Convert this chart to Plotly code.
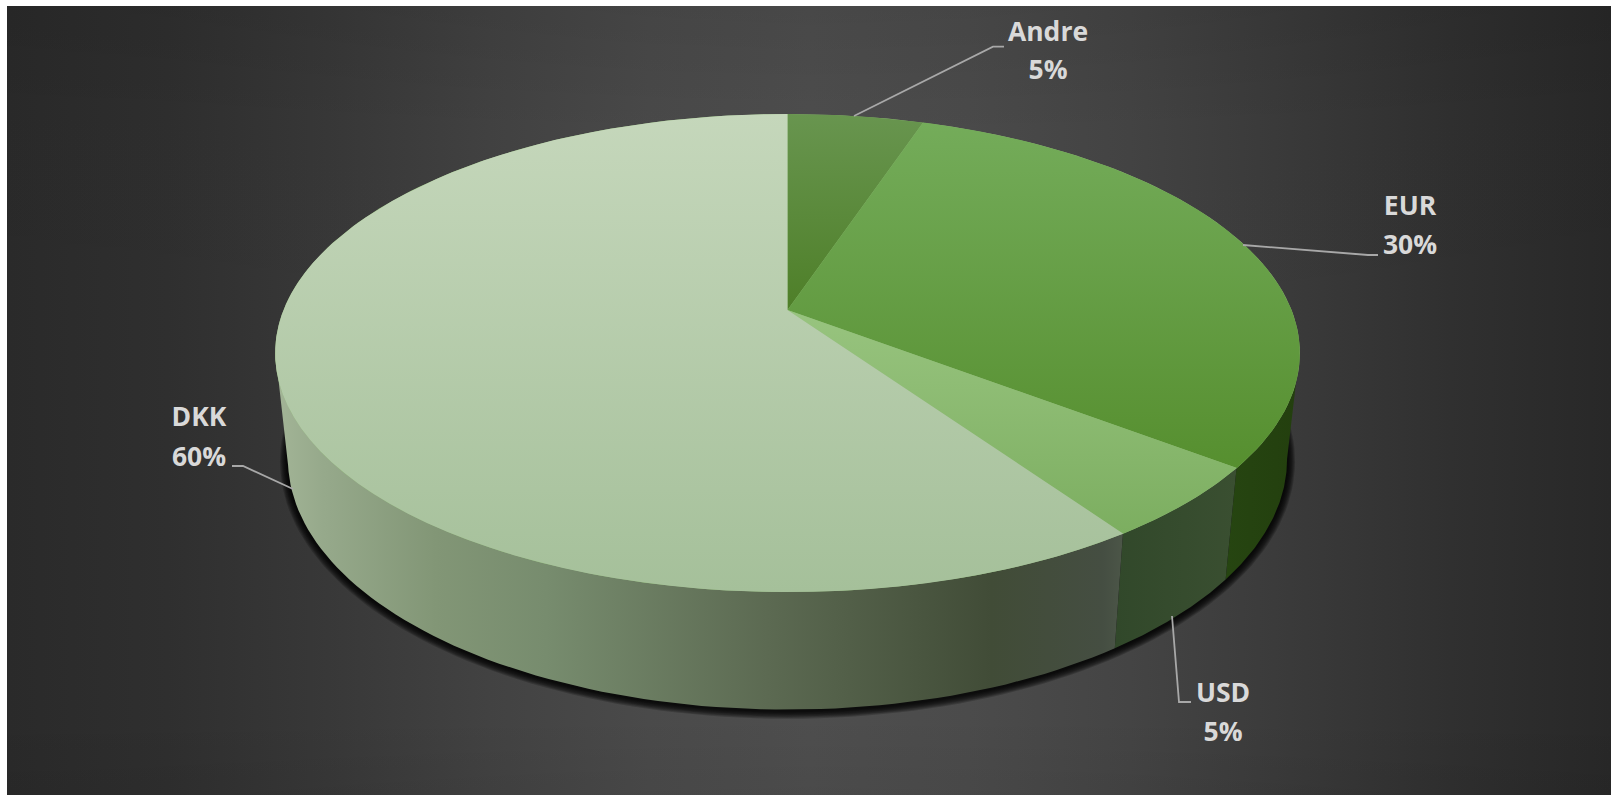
import math
import plotly.graph_objects as go

# ---- data -----------------------------------------------------------------
labels = ["Andre", "EUR", "USD", "DKK"]
values = [5.1, 30.3, 5.0, 59.6]

# ---- styles ---------------------------------------------------------------
top_colors = {
    "Andre": ("#68954f", "#4e7f28"),
    "EUR": ("#74ac5a", "#568f2f"),
    "USD": ("#98c47f", "#7cae60"),
    "DKK": ("#c5d7bb", "#a5c09a"),
}
wall_scales = {
    "EUR": [[0, "#264511"], [1, "#233f0e"]],
    "USD": [[0, "#31482a"], [1, "#3a4f31"]],
    "DKK": [[0, "#a3b597"], [0.057, "#96a98b"], [0.19, "#829676"], [0.32, "#778c6e"],
            [0.58, "#5c6a52"], [0.845, "#414c37"], [0.976, "#454e42"], [1, "#4c5648"]],
}
label_xy = {
    "Andre": (1048, 34, 72),
    "EUR": (1410, 208, 247),
    "USD": (1223, 695, 734),
    "DKK": (199, 419, 459),
}
leader_xy = {
    "Andre": ([854, 993, 1004], [116, 46.7, 46.7]),
    "EUR": ([1243, 1368, 1378], [245, 255, 255]),
    "USD": ([1172, 1179, 1191], [616, 702, 702]),
    "DKK": ([293, 243, 232], [489, 466, 466]),
}
W, H, LEFT, TOP = 1611, 795, 7, 6

# perspective model of the pie (pixels)
CX, CY, A, B, Q = 787.5, 310.0, 504.0, 231.3, 0.18
SX, SY, CY2 = 0.975, 1.048, 414.0
TANGENT = math.degrees(math.acos(-Q))  # where the wall starts being visible


def top_pt(deg):
    a = math.radians(deg)
    u, v = math.sin(a), -math.cos(a)
    d = 1 - Q * v
    return A * u / d, B * v / d


def arc(d0, d1, n=80):
    return [d0 + (d1 - d0) * i / n for i in range(n + 1)]


def no_line():
    return dict(width=0, color="rgba(0,0,0,0)")


fig = go.Figure()


def add_fill(xs, ys, **kw):
    fig.add_trace(go.Scatter(x=xs, y=ys, mode="lines", line=no_line(), fill="toself",
                             hoverinfo="skip", showlegend=False, **kw))


# background
rect_x = [LEFT, W, W, LEFT, LEFT]
rect_y = [TOP, TOP, H, H, TOP]
add_fill(rect_x, rect_y, fillgradient=dict(
    type="horizontal", start=LEFT, stop=W,
    colorscale=[[0, "#2a2a2a"], [0.1, "#2f2f2f"], [0.2, "#383838"], [0.3, "#424242"],
                [0.4, "#4a4a4a"], [0.5, "#4e4e4e"], [0.6, "#4b4b4b"], [0.7, "#444444"],
                [0.8, "#3a3a3a"], [0.9, "#303030"], [1, "#282828"]]))
add_fill(rect_x, rect_y, fillgradient=dict(
    type="vertical", start=TOP, stop=H,
    colorscale=[[0, "rgba(0,0,0,0.08)"], [0.15, "rgba(0,0,0,0.02)"], [0.5, "rgba(0,0,0,0)"],
                [0.9, "rgba(0,0,0,0)"], [1, "rgba(0,0,0,0.05)"]]))

# soft shadow under the base
all_deg = arc(0, 360, 240)
for grow in range(8, 0, -1):
    sh_x, sh_y = [], []
    for d in all_deg:
        x, y = top_pt(d)
        sh_x.append(CX + SX * x * (1 + grow / 500))
        sh_y.append(CY2 + 1 + SY * y * (1 + grow / 290))
    add_fill(sh_x, sh_y, fillcolor="rgba(0,0,0,0.2)")

# slice angles, clockwise from 12 o'clock
total = sum(values)
edges = [0.0]
for v in values:
    edges.append(edges[-1] + 360.0 * v / total)
span = {name: (edges[i], edges[i + 1]) for i, name in enumerate(labels)}

# side walls (their upper edge tucks under the top face to avoid a seam)
for name in labels:
    d0, d1 = span[name]
    lo, hi = max(d0, TANGENT), min(d1, 360 - TANGENT)
    if hi <= lo:
        continue
    pts = [top_pt(d) for d in arc(lo, hi)]
    xs = [CX + p[0] for p in pts] + [CX + SX * p[0] for p in reversed(pts)]
    ys = [CY + p[1] - 3 for p in pts] + [CY2 + SY * p[1] for p in reversed(pts)]
    xs.append(xs[0])
    ys.append(ys[0])
    add_fill(xs, ys, fillgradient=dict(
        type="horizontal", start=min(xs), stop=max(xs), colorscale=wall_scales[name]))

# neutral base under the top faces so wedge seams stay invisible
base = [top_pt(d) for d in all_deg]
add_fill([CX + p[0] for p in base], [CY + p[1] for p in base], fillcolor="#8fb877")

# top faces
for name in labels:
    d0, d1 = span[name]
    pts = [top_pt(d) for d in arc(d0, d1)]
    xs = [CX] + [CX + p[0] for p in pts] + [CX]
    ys = [CY] + [CY + p[1] for p in pts] + [CY]
    add_fill(xs, ys, fillgradient=dict(
        type="vertical", start=min(ys), stop=max(ys),
        colorscale=[[0, top_colors[name][0]], [1, top_colors[name][1]]]))

# leader lines and labels
for name, value in zip(labels, values):
    lx, ly = leader_xy[name]
    fig.add_trace(go.Scatter(x=lx, y=ly, mode="lines", hoverinfo="skip", showlegend=False,
                             line=dict(color="#a8a8a8", width=1.8)))
    tx, y1, y2 = label_xy[name]
    fig.add_trace(go.Scatter(
        x=[tx, tx], y=[y1, y2], mode="text", hoverinfo="skip", showlegend=False,
        text=[name, f"{round(value)}%"], textposition="middle center",
        textfont=dict(family="Open Sans", size=26.5, color="#d9d9d9", weight=700)))

fig.update_layout(
    width=W, height=H, autosize=False,
    margin=dict(l=LEFT, t=TOP, r=0, b=0, pad=0),
    paper_bgcolor="white", plot_bgcolor="#3a3a3a", showlegend=False,
    xaxis=dict(range=[LEFT, W], visible=False, fixedrange=True),
    yaxis=dict(range=[H, TOP], visible=False, fixedrange=True),
)
fig.write_html("out.html", config={"displayModeBar": False},
               post_script="document.body.style.margin='0';document.body.style.overflow='hidden';")
